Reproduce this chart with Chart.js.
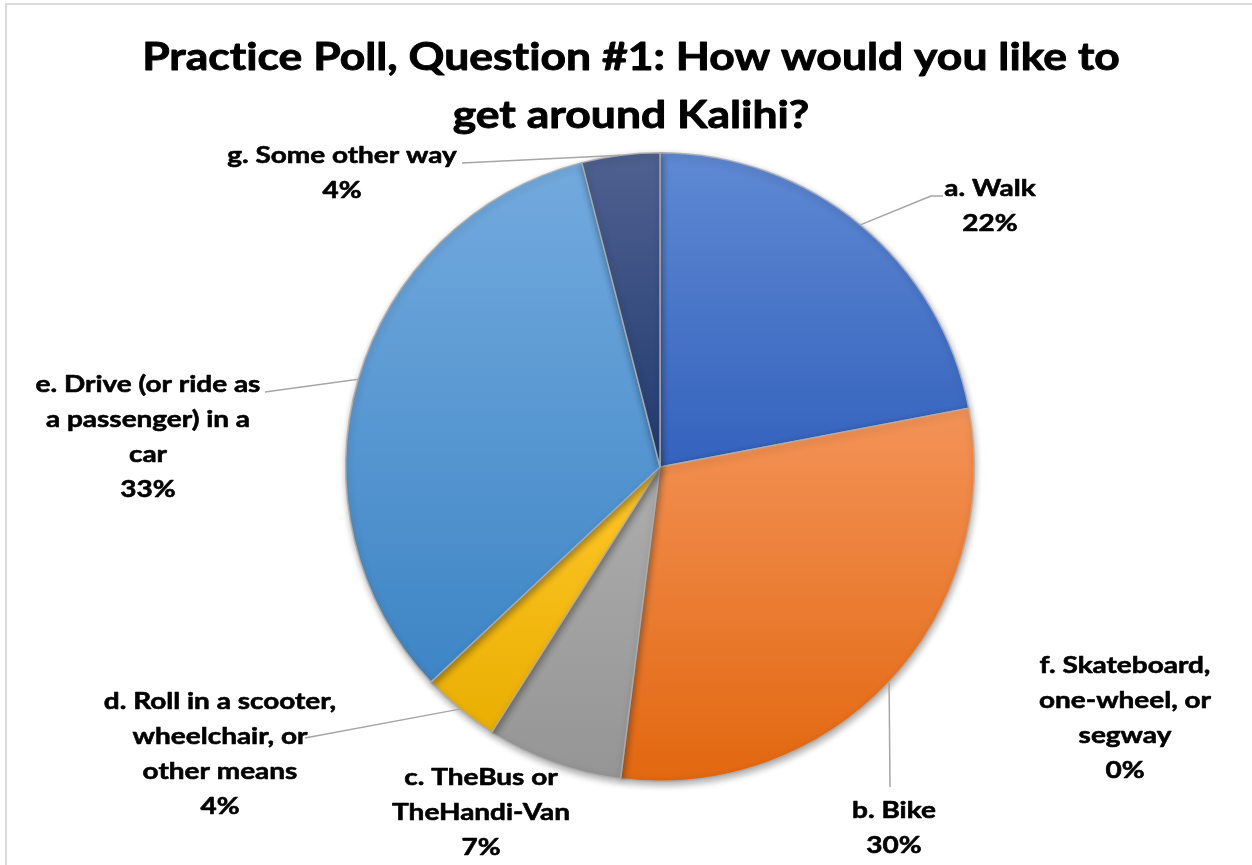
<!DOCTYPE html>
<html>
<head>
<meta charset="utf-8">
<script src="https://cdn.jsdelivr.net/npm/chart.js@4.4.1/dist/chart.umd.min.js"></script>
<style>
  body { margin: 0; background: #fff; overflow: hidden; }
  #wrap { position: relative; width: 1252px; height: 865px; }
  #frame { position: absolute; left: 5px; top: 3px; width: 1300px; height: 900px;
           border-top: 2px solid #dadada; border-left: 2px solid #dadada; pointer-events: none; }
</style>
</head>
<body>
<div id="wrap">
  <canvas id="pie" width="1252" height="865"></canvas>
  <div id="frame"></div>
</div>
<script>
// poll answers, in the order Excel plotted them
var categories = [
    ["a. Walk"],
    ["b. Bike"],
    ["c. TheBus or", "TheHandi-Van"],
    ["d. Roll in a scooter,", "wheelchair, or", "other means"],
    ["e. Drive (or ride as", "a passenger) in a", "car"],
    ["f. Skateboard,", "one-wheel, or", "segway"],
    ["g. Some other way"]
];
var percents = [22, 30, 7, 4, 33, 0, 4];
var titleLines = ["Practice Poll, Question #1: How would you like to", "get around Kalihi?"];

// top / bottom colour of each slice gradient
var topColors    = ["#5F89D3", "#F39358", "#ADADAD", "#FFC72A", "#73AADE", "#8E8E8E", "#4F6190"];
var bottomColors = ["#3462BD", "#E2670F", "#959595", "#E9AE00", "#3D85C5", "#6E6E6E", "#213A70"];

// where each data label sits (first baseline) and the label end of its leader line
var labelLayout = [
    { x: 990, y: 196, leader: [[943, 196], [931, 196]] },
    { x: 894, y: 818, leader: [[890, 787]] },
    { x: 481, y: 785, leader: null },
    { x: 220, y: 709, leader: [[305, 738]] },
    { x: 148, y: 392, leader: [[265, 392]] },
    { x: 1125, y: 673, leader: null },
    { x: 342, y: 163, leader: [[462, 163]] }
];
var FONT = "Lato, 'Liberation Sans', sans-serif";

function sliceGradient(context) {
    var chart = context.chart;
    var area = chart.chartArea;
    var i = context.dataIndex;
    if (!area) return topColors[i];
    var cx = (area.left + area.right) / 2;
    var cy = (area.top + area.bottom) / 2;
    var r = Math.min(area.right - area.left, area.bottom - area.top) / 2;
    var total = percents.reduce(function (s, v) { return s + v; }, 0);
    var before = 0;
    for (var k = 0; k < i; k++) before += percents[k];
    var a0 = -Math.PI / 2 + 2 * Math.PI * before / total;
    var a1 = a0 + 2 * Math.PI * percents[i] / total;
    var ys = [cy, cy + r * Math.sin(a0), cy + r * Math.sin(a1)];
    [-Math.PI / 2, Math.PI / 2, 3 * Math.PI / 2].forEach(function (a) {
        if (a >= a0 && a <= a1) ys.push(cy + r * Math.sin(a));
    });
    var y0 = Math.min.apply(null, ys), y1 = Math.max.apply(null, ys);
    if (y1 - y0 < 1) y1 = y0 + 1;
    var g = chart.ctx.createLinearGradient(0, y0, 0, y1);
    g.addColorStop(0, topColors[i]);
    g.addColorStop(1, bottomColors[i]);
    return g;
}

// text in the picture is wider and heavier than Lato bold
function wideText(ctx, t, x, y, sx) {
    ctx.save();
    ctx.translate(x, y);
    ctx.scale(sx, 1);
    ctx.fillText(t, 0, 0);
    ctx.strokeText(t, 0, 0);
    ctx.restore();
}

var pieShadow = {
    id: "pieShadow",
    beforeDatasetsDraw: function (chart) {
        var ctx = chart.ctx;
        ctx.save();
        ctx.shadowColor = "rgba(0,0,0,0.32)";
        ctx.shadowBlur = 7;
        ctx.shadowOffsetX = 1;
        ctx.shadowOffsetY = 3;
    },
    afterDatasetsDraw: function (chart) {
        chart.ctx.restore();
    }
};

var pieLabels = {
    id: "pieLabels",
    afterDraw: function (chart) {
        var ctx = chart.ctx;
        ctx.save();
        // title (tiny letter spacing keeps Lato from joining "ti")
        ctx.letterSpacing = "0.01px";
        ctx.fillStyle = "#000";
        ctx.strokeStyle = "#000";
        ctx.lineJoin = "round";
        ctx.textAlign = "center";
        ctx.textBaseline = "alphabetic";
        ctx.font = "bold 38px " + FONT;
        ctx.lineWidth = 0.9;
        titleLines.forEach(function (t, j) {
            wideText(ctx, t, 631, 70 + j * 58, 1.17);
        });

        var arcs = chart.getDatasetMeta(0).data;
        arcs.forEach(function (arc, i) {
            var lay = labelLayout[i];
            if (lay.leader) {
                var mid = (arc.startAngle + arc.endAngle) / 2;
                var px = arc.x + Math.cos(mid) * arc.outerRadius;
                var py = arc.y + Math.sin(mid) * arc.outerRadius;
                ctx.strokeStyle = "#a6a6a6";
                ctx.lineWidth = 1.5;
                ctx.beginPath();
                ctx.moveTo(lay.leader[0][0], lay.leader[0][1]);
                for (var k = 1; k < lay.leader.length; k++) ctx.lineTo(lay.leader[k][0], lay.leader[k][1]);
                ctx.lineTo(px, py);
                ctx.stroke();
            }
            var lines = categories[i].concat([percents[i] + "%"]);
            ctx.fillStyle = "#000";
            ctx.strokeStyle = "#000";
            ctx.lineWidth = 0.6;
            ctx.font = "bold 23px " + FONT;
            lines.forEach(function (t, j) {
                wideText(ctx, t, lay.x, lay.y + j * 35, 1.215);
            });
        });
        ctx.restore();
    }
};

new Chart(document.getElementById("pie"), {
    type: "pie",
    data: {
        labels: categories,
        datasets: [{
            data: percents,
            backgroundColor: sliceGradient,
            borderColor: "rgba(175,175,175,0.9)",
            borderWidth: 1.5
        }]
    },
    options: {
        responsive: false,
        animation: false,
        layout: { padding: { left: 68, right: 0, top: 152, bottom: 83 } },
        plugins: {
            legend: { display: false },
            tooltip: { enabled: false },
            title: { display: false }
        }
    },
    plugins: [pieShadow, pieLabels]
});
</script>
</body>
</html>
